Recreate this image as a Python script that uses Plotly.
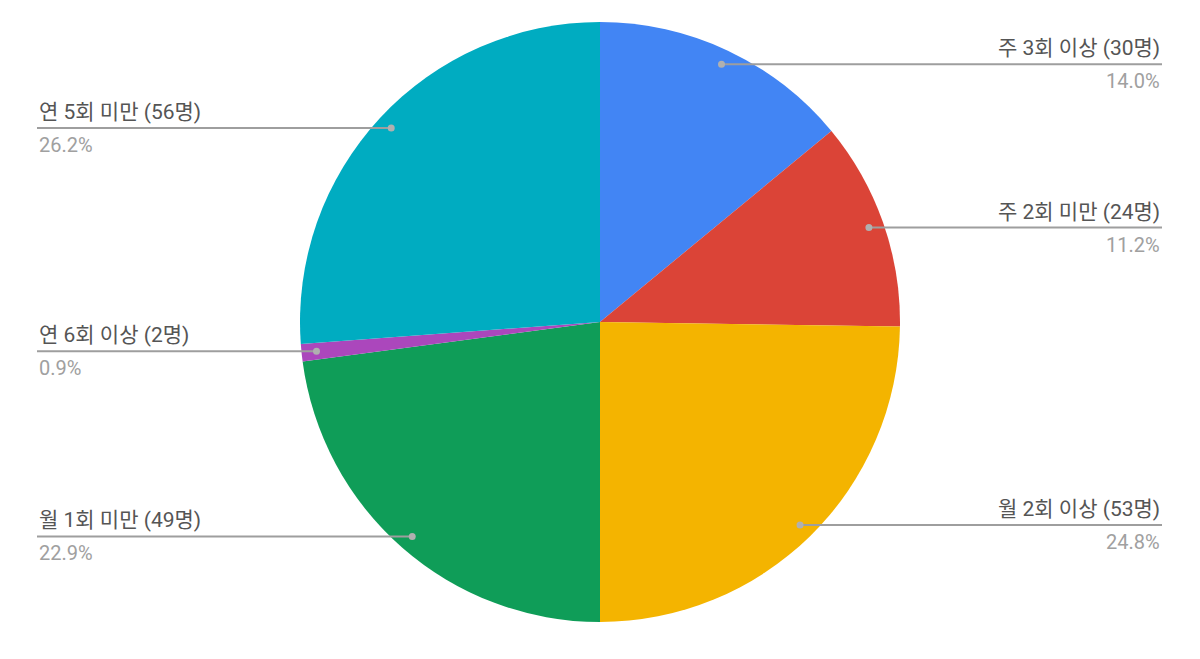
import math
import plotly.graph_objects as go

labels = ["주 3회 이상", "주 2회 미만", "월 2회 이상", "월 1회 미만", "연 6회 이상", "연 5회 미만"]
counts = [30, 24, 53, 49, 2, 56]
colors = ["#4285F4", "#DB4437", "#F4B400", "#0F9D58", "#AB47BC", "#00ACC1"]

W, H = 1200, 659
CX, CY, R = 600, 322, 300
total = sum(counts)

fig = go.Figure()
fig.add_trace(go.Pie(
    labels=labels,
    values=counts,
    marker=dict(colors=colors, line=dict(color="white", width=0)),
    sort=False,
    direction="clockwise",
    rotation=0,
    textinfo="none",
    hoverinfo="label+value+percent",
    domain=dict(x=[0, 1], y=[(H - (CY + R)) / H, (H - (CY - R)) / H]),
    showlegend=False,
))
# invisible trace so the pixel axes exist
fig.add_trace(go.Scatter(x=[0, W], y=[0, H], mode="markers",
                         marker=dict(opacity=0), hoverinfo="skip", showlegend=False))

# leader lines + dots, in pixel coordinates, drawn above the pie
cum = 0
for lab, n in zip(labels, counts):
    mid = (cum + n / 2) / total
    cum += n
    ang = mid * 2 * math.pi
    dx = CX + 0.95 * R * math.sin(ang)
    dy = CY - 0.95 * R * math.cos(ang)
    right = math.sin(ang) > 0
    x_end = 1162 if right else 37
    fig.add_shape(type="line", xref="x", yref="y", layer="above",
                  x0=dx, x1=x_end, y0=dy, y1=dy,
                  line=dict(color="#9e9e9e", width=2))
    fig.add_shape(type="circle", xref="x", yref="y", layer="above",
                  x0=dx - 3.5, x1=dx + 3.5, y0=dy - 3.5, y1=dy + 3.5,
                  fillcolor="#b0b0b0", line=dict(width=0))
    anchor = "right" if right else "left"
    fig.add_annotation(
        x=x_end, y=dy - 2, xref="x", yref="y",
        text=f"{lab} ({n}명)", showarrow=False,
        xanchor=anchor, yanchor="bottom",
        font=dict(size=21, color="#555555"),
    )
    fig.add_annotation(
        x=x_end, y=dy + 3, xref="x", yref="y",
        text=f"{n / total * 100:.1f}%", showarrow=False,
        xanchor=anchor, yanchor="top",
        font=dict(size=20, color="#a0a0a0"),
    )

fig.update_layout(
    width=W, height=H,
    margin=dict(l=0, r=0, t=0, b=0),
    paper_bgcolor="white", plot_bgcolor="rgba(0,0,0,0)",
    font_family="Roboto, 'Noto Sans CJK KR', sans-serif",
    xaxis=dict(range=[0, W], visible=False, fixedrange=True),
    yaxis=dict(range=[H, 0], visible=False, fixedrange=True),
)
fig.write_html("out.html", config={"displayModeBar": False},
               post_script="document.body.style.margin='0';")
